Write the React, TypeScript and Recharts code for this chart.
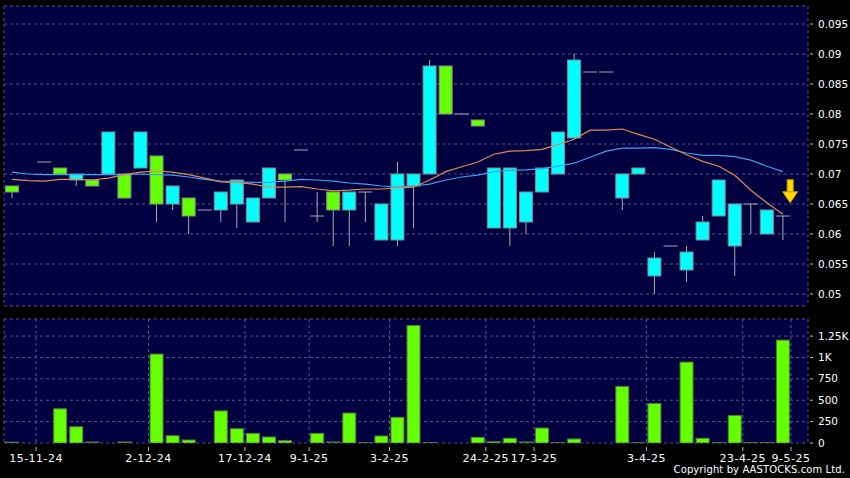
import React from "react";
import {
  ComposedChart, Bar, Line, XAxis, YAxis, CartesianGrid, ReferenceDot,
} from "recharts";

// daily OHLC, one slot per trading day (null = no trade)
const opens = [
  0.068, null, 0.072, 0.071, 0.069, 0.069, 0.070, 0.070, 0.071, 0.073,
  0.065, 0.066, 0.064, 0.064, 0.065, 0.062, 0.066, 0.070, 0.074, 0.063,
  0.067, 0.064, 0.067, 0.059, 0.059, 0.068, 0.070, 0.088, 0.080, 0.079,
  0.061, 0.061, 0.062, 0.067, 0.070, 0.076, 0.087, 0.087, 0.066, 0.070,
  0.053, 0.058, 0.054, 0.059, 0.063, 0.058, 0.065, 0.060, 0.063,
];
const highs = [
  0.068, null, 0.072, 0.071, 0.070, 0.069, 0.077, 0.070, 0.077, 0.073,
  0.068, 0.066, 0.064, 0.067, 0.069, 0.066, 0.071, 0.070, 0.074, 0.067,
  0.067, 0.067, 0.067, 0.065, 0.072, 0.070, 0.089, 0.088, 0.080, 0.079,
  0.071, 0.071, 0.067, 0.071, 0.077, 0.090, 0.087, 0.087, 0.070, 0.071,
  0.057, 0.058, 0.058, 0.063, 0.069, 0.065, 0.065, 0.064, 0.063,
];
const lows = [
  0.066, null, 0.072, 0.070, 0.068, 0.068, 0.070, 0.066, 0.071, 0.062,
  0.064, 0.060, 0.064, 0.062, 0.061, 0.062, 0.066, 0.062, 0.074, 0.062,
  0.058, 0.058, 0.062, 0.059, 0.058, 0.061, 0.070, 0.080, 0.080, 0.078,
  0.061, 0.058, 0.060, 0.067, 0.070, 0.076, 0.087, 0.087, 0.064, 0.070,
  0.050, 0.058, 0.052, 0.059, 0.063, 0.053, 0.060, 0.060, 0.059,
];
const closes = [
  0.067, null, 0.072, 0.070, 0.070, 0.068, 0.077, 0.066, 0.077, 0.065,
  0.068, 0.063, 0.064, 0.067, 0.069, 0.066, 0.071, 0.069, 0.074, 0.063,
  0.064, 0.067, 0.067, 0.065, 0.070, 0.070, 0.088, 0.080, 0.080, 0.078,
  0.071, 0.071, 0.067, 0.071, 0.077, 0.089, 0.087, 0.087, 0.070, 0.071,
  0.056, 0.058, 0.057, 0.062, 0.069, 0.065, 0.065, 0.064, 0.063,
];
const volumes = [
  10, 0, 0, 400, 190, 12, 0, 12, 0, 1040,
  85, 35, 0, 375, 167, 113, 70, 27, 0, 113,
  12, 350, 5, 82, 300, 1375, 5, 0, 0, 67,
  15, 55, 12, 175, 4, 47, 0, 0, 662, 4,
  463, 0, 946, 55, 4, 323, 6, 6, 1203,
];
// moving averages as drawn (orange = short, blue = long)
const maShort = [
  0.0691, 0.0689, 0.0688, 0.0691, 0.0691, 0.0690, 0.0693, 0.0699, 0.0703, 0.0705,
  0.0703, 0.0699, 0.0693, 0.0687, 0.0686, 0.0683, 0.0678, 0.0678, 0.0679, 0.0675,
  0.0672, 0.0673, 0.0675, 0.0675, 0.0677, 0.0678, 0.0690, 0.0704, 0.0712, 0.0720,
  0.0733, 0.0738, 0.0739, 0.0741, 0.0749, 0.0758, 0.0773, 0.0773, 0.0775, 0.0766,
  0.0758, 0.0745, 0.0732, 0.0721, 0.0713, 0.0698, 0.0673, 0.0652, 0.0633,
];
const maLong = [
  0.0703, 0.0700, 0.0699, 0.0699, 0.0699, 0.0699, 0.0699, 0.0699, 0.0700, 0.0699,
  0.0698, 0.0695, 0.0691, 0.0688, 0.0687, 0.0686, 0.0686, 0.0688, 0.0691, 0.0690,
  0.0688, 0.0685, 0.0683, 0.0680, 0.0678, 0.0680, 0.0683, 0.0690, 0.0695, 0.0698,
  0.0704, 0.0706, 0.0707, 0.0709, 0.0713, 0.0718, 0.0728, 0.0738, 0.0743, 0.0743,
  0.0744, 0.0741, 0.0735, 0.0731, 0.0731, 0.0729, 0.0723, 0.0713, 0.0704,
];

const dateTicks = [1.5, 8.5, 14.5, 18.5, 23.5, 29.5, 32.5, 39.5, 45.5, 48.5];
const dateLabels = [
  "15-11-24", "2-12-24", "17-12-24", "9-1-25", "3-2-25",
  "24-2-25", "17-3-25", "3-4-25", "23-4-25", "9-5-25",
];
const priceTicks = [0.05, 0.055, 0.06, 0.065, 0.07, 0.075, 0.08, 0.085, 0.09, 0.095];
const volTicks = [0, 250, 500, 750, 1000, 1250];

const rows = opens.map((o, i) => ({
  i,
  open: o,
  high: highs[i],
  low: lows[i],
  close: closes[i],
  range: highs[i] == null ? null : [lows[i], highs[i]],
  maS: maShort[i],
  maL: maLong[i],
  vol: volumes[i],
}));

const X_DOMAIN = [-0.5, 49.56];
const BG = "#000040";
const GRID = "#55558f";

function Candle(props: any) {
  const { x, y, width, height, payload } = props;
  if (!payload || payload.high == null) return null;
  const { open, close, high, low } = payload;
  const top = Math.min(y, y + height);
  const h = Math.abs(height);
  const span = high - low;
  const py = (p: number) => (span === 0 ? top : top + ((high - p) / span) * h);
  const cx = x + width / 2;
  const bTop = py(Math.max(open, close));
  const bBot = py(Math.min(open, close));
  return (
    <g>
      {h > 0 && <line x1={cx} x2={cx} y1={top} y2={top + h} stroke="#a9a9b4" />}
      {open === close ? (
        <line x1={x} x2={x + width} y1={bTop} y2={bTop} stroke="#a9a9b4" />
      ) : (
        <rect
          x={x + 0.5}
          y={bTop}
          width={width - 1}
          height={bBot - bTop}
          fill={close > open ? "#00ffff" : "#66ff00"}
          stroke="#7d8c8c"
        />
      )}
    </g>
  );
}

function VolBar(props: any) {
  const { x, y, width, height } = props;
  if (!height || height <= 0) return null;
  return <rect x={x + 0.5} y={y} width={width - 1} height={height} fill="#66ff00" stroke="#4b7d3c" />;
}

function Arrow(props: any) {
  const { cx, cy } = props;
  return (
    <g>
      <rect x={cx - 3} y={cy - 11} width={6} height={12} fill="#ffd800" stroke="#d4a000" />
      <polygon
        points={`${cx - 7.5},${cy + 1} ${cx + 7.5},${cy + 1} ${cx},${cy + 12}`}
        fill="#ffd800"
        stroke="#d4a000"
      />
    </g>
  );
}

function YTick(props: any) {
  const { x, y, payload, fmt } = props;
  return (
    <g>
      <line x1={x + 2} x2={x + 5} y1={y} y2={y} stroke="#bbbbbb" />
      <text x={x + 10} y={y} dy={3.5} fill="#ffffff" fontSize={10.5}>
        {fmt(payload.value)}
      </text>
    </g>
  );
}

function XTick(props: any) {
  const { x, y, payload } = props;
  const idx = dateTicks.indexOf(payload.value);
  return (
    <g>
      <line x1={x} x2={x} y1={y + 4} y2={y + 8} stroke="#bbbbbb" />
      <text x={x} y={y + 19} textAnchor="middle" fill="#ffffff" fontSize={11} letterSpacing={0.5}>
        {dateLabels[idx]}
      </text>
    </g>
  );
}

const fmtPrice = (v: number) => String(v);
const fmtVol = (v: number) => (v >= 1000 ? `${v / 1000}K` : String(v));

export default function App() {
  return (
    <div
      style={{
        position: "absolute", left: 0, top: 0, width: 850, height: 478,
        background: "#000", fontFamily: "DejaVu Sans", overflow: "hidden",
      }}
    >
      <div style={{ position: "absolute", left: 0, top: 0 }}>
        <ComposedChart width={850} height={312} data={rows} margin={{ top: 6, right: 0, bottom: 6, left: 4 }}>
          <CartesianGrid fill={BG} stroke={GRID} strokeDasharray="3 3" />
          <XAxis
            type="number" dataKey="i" domain={X_DOMAIN} ticks={dateTicks} allowDataOverflow
            height={0} tick={false} axisLine={false} tickLine={false}
          />
          <YAxis
            orientation="right" width={42} domain={[0.048, 0.098]} ticks={priceTicks} interval={0}
            allowDataOverflow axisLine={false} tickLine={false} tickSize={0} tickMargin={0}
            tick={<YTick fmt={fmtPrice} />}
          />
          <Bar dataKey="range" barSize={14} shape={<Candle />} isAnimationActive={false} />
          <Line type="linear" dataKey="maL" stroke="#3f9ff0" strokeWidth={1.2} dot={false} isAnimationActive={false} />
          <Line type="linear" dataKey="maS" stroke="#e08a55" strokeWidth={1.2} dot={false} isAnimationActive={false} />
          <ReferenceDot x={48.45} y={0.0672} r={0} shape={<Arrow />} />
        </ComposedChart>
      </div>
      <div style={{ position: "absolute", left: 0, top: 312 }}>
        <ComposedChart width={850} height={166} data={rows} margin={{ top: 7, right: 0, bottom: 0, left: 4 }}>
          <CartesianGrid fill={BG} stroke={GRID} strokeDasharray="3 3" />
          <XAxis
            type="number" dataKey="i" domain={X_DOMAIN} ticks={dateTicks} allowDataOverflow
            height={35} axisLine={false} tickLine={false} tickSize={0} tickMargin={0}
            tick={<XTick />} interval={0}
          />
          <YAxis
            orientation="right" width={42} domain={[0, 1450]} ticks={volTicks} interval={0}
            allowDataOverflow axisLine={false} tickLine={false} tickSize={0} tickMargin={0}
            tick={<YTick fmt={fmtVol} />}
          />
          <Bar dataKey="vol" barSize={14} shape={<VolBar />} isAnimationActive={false} />
        </ComposedChart>
      </div>
      <div
        style={{
          position: "absolute", right: 5, top: 464, color: "#fff",
          fontSize: 10, letterSpacing: 0.1, whiteSpace: "nowrap",
        }}
      >
        Copyright by AASTOCKS.com Ltd.
      </div>
    </div>
  );
}
